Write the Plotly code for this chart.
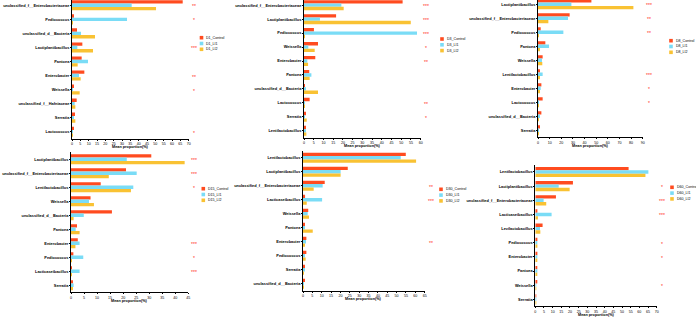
import plotly.graph_objects as go

W, H = 696, 317
GROUPS = ["Control", "LI1", "LI2"]
COLORS = ["#FF4B1F", "#7ADCF6", "#F9C233"]
FONT = "Liberation Sans, Arial, sans-serif"

# ---------------- data ----------------
d1_taxa = ["unclassified_f__Enterobacteriaceae", "Pediococcus", "unclassified_d__Bacteria",
           "Lactiplantibacillus", "Pantoea", "Enterobacter", "Weissella",
           "unclassified_f__Hafniaceae", "Serratia", "Lactococcus"]
d1_control = [66.4, 0.8, 3.0, 6.2, 5.8, 7.4, 1.0, 2.8, 1.8, 1.2]
d1_li1 = [35.8, 33.0, 5.4, 3.2, 9.6, 4.2, 0.6, 1.6, 1.0, 0.1]
d1_li2 = [50.4, 0.6, 13.8, 12.6, 3.4, 5.2, 4.6, 2.0, 2.0, 0.4]
d1_sig = ["**", "*", "", "***", "", "**", "*", "", "", "*"]

d3_taxa = ["unclassified_f__Enterobacteriaceae", "Lactiplantibacillus", "Pediococcus",
           "Weissella", "Enterobacter", "Pantoea", "unclassified_d__Bacteria",
           "Lactococcus", "Serratia", "Lentilactobacillus"]
d3_control = [50.7, 16.5, 5.1, 7.2, 5.8, 2.7, 0.5, 2.9, 0.9, 0.9]
d3_li1 = [19.2, 8.2, 58.1, 2.2, 1.7, 3.8, 0.7, 0.3, 0.5, 1.0]
d3_li2 = [20.4, 54.9, 0.3, 5.5, 2.1, 2.9, 7.2, 0.3, 1.4, 1.2]
d3_sig = ["***", "***", "***", "*", "**", "", "", "**", "*", ""]

d8_taxa = ["Lactiplantibacillus", "unclassified_f__Enterobacteriaceae", "Pediococcus",
           "Pantoea", "Weissella", "Lentilactobacillus", "Enterobacter",
           "Lactococcus", "unclassified_d__Bacteria", "Serratia"]
d8_control = [45.9, 27.2, 2.3, 6.3, 4.0, 1.7, 2.9, 4.0, 2.9, 0.9]
d8_li1 = [28.7, 25.8, 21.8, 9.5, 3.4, 4.0, 2.3, 0.6, 1.4, 0.6]
d8_li2 = [82.0, 8.9, 0.3, 1.4, 3.7, 1.4, 1.1, 0.3, 0.6, 0.6]
d8_sig = ["***", "**", "**", "", "", "***", "*", "*", "", ""]

d15_taxa = ["Lactiplantibacillus", "unclassified_f__Enterobacteriaceae", "Lentilactobacillus",
            "Weissella", "unclassified_d__Bacteria", "Pantoea", "Enterobacter",
            "Pediococcus", "Lacticaseibacillus", "Serratia"]
d15_control = [30.8, 21.1, 11.4, 7.5, 15.7, 2.3, 2.6, 0.9, 0.3, 0.5]
d15_li1 = [21.4, 25.2, 23.9, 6.9, 4.9, 1.8, 3.3, 4.7, 3.3, 1.0]
d15_li2 = [43.6, 14.5, 23.0, 8.8, 1.0, 3.3, 1.7, 0.1, 0.05, 0.5]
d15_sig = ["***", "***", "*", "", "", "", "***", "*", "***", ""]

d30_taxa = ["Lentilactobacillus", "Lactiplantibacillus", "unclassified_f__Enterobacteriaceae",
            "Lacticaseibacillus", "Weissella", "Pantoea", "Enterobacter",
            "Pediococcus", "Serratia", "unclassified_d__Bacteria"]
d30_control = [54.9, 23.9, 11.6, 1.1, 2.8, 0.9, 1.8, 1.8, 0.7, 0.7]
d30_li1 = [52.2, 20.1, 10.5, 10.2, 2.5, 0.7, 1.6, 0.7, 0.7, 0.5]
d30_li2 = [60.4, 20.1, 5.7, 2.0, 3.2, 5.2, 0.9, 1.4, 0.5, 0.4]
d30_sig = ["", "", "**", "***", "", "", "**", "", "", ""]

d60_taxa = ["Lentilactobacillus", "Lactiplantibacillus", "unclassified_f__Enterobacteriaceae",
            "Lacticaseibacillus", "Levilactobacillus", "Pediococcus", "Enterobacter",
            "Pantoea", "Weissella", "Serratia"]
d60_control = [53.8, 21.7, 11.9, 1.2, 4.2, 1.2, 1.2, 0.6, 0.6, 0.2]
d60_li1 = [65.2, 13.5, 4.8, 9.4, 2.7, 0.6, 0.6, 0.6, 0.2, 0.2]
d60_li2 = [63.5, 19.8, 6.3, 1.5, 2.9, 1.2, 0.8, 1.0, 0.2, 0.1]
d60_sig = ["", "*", "***", "***", "", "*", "*", "", "*", ""]

x_title = "Mean proportion(%)"

# ---------------- layout geometry (pixels) ----------------
panels = [
    dict(day="D1", taxa=d1_taxa, vals=[d1_control, d1_li1, d1_li2], sig=d1_sig,
         xmax=70, dtick=5, x0=72, x1=188.7, c0=5.3, c9=131.7, star=194,
         leg=(201.5, 37.7)),
    dict(day="D3", taxa=d3_taxa, vals=[d3_control, d3_li1, d3_li2], sig=d3_sig,
         xmax=60, dtick=5, x0=304, x1=420.7, c0=5.2, c9=130.8, star=426,
         leg=(442, 39.0)),
    dict(day="D8", taxa=d8_taxa, vals=[d8_control, d8_li1, d8_li2], sig=d8_sig,
         xmax=90, dtick=10, x0=538, x1=642.7, c0=4.3, c9=130.3, star=649,
         leg=(671, 40.7)),
    dict(day="D15", taxa=d15_taxa, vals=[d15_control, d15_li1, d15_li2], sig=d15_sig,
         xmax=45, dtick=5, x0=71, x1=188.3, c0=159.3, c9=285.3, star=194,
         leg=(203.3, 188.7)),
    dict(day="D30", taxa=d30_taxa, vals=[d30_control, d30_li1, d30_li2], sig=d30_sig,
         xmax=65, dtick=5, x0=303, x1=424.7, c0=157.7, c9=283.7, star=431,
         leg=(441, 189.3)),
    dict(day="D60", taxa=d60_taxa, vals=[d60_control, d60_li1, d60_li2], sig=d60_sig,
         xmax=70, dtick=5, x0=535.3, x1=656.7, c0=172, c9=299.3, star=662,
         leg=(672, 187.3)),
]


def px(x):
    return x / W


def py(y):
    return 1 - y / H


fig = go.Figure()
layout = {}
annotations = []
shapes = []

for i, p in enumerate(panels, start=1):
    sfx = "" if i == 1 else str(i)
    xa, ya = "x" + sfx, "y" + sfx
    n = len(p["taxa"])
    s = (p["c9"] - p["c0"]) / (n - 1)
    top = max(0.0, p["c0"] - 0.5 * s)
    bottom = p["c9"] + 0.5 * s
    rtop = -(p["c0"] - top) / s

    for g, vals, col in zip(GROUPS, p["vals"], COLORS):
        fig.add_trace(go.Bar(
            y=p["taxa"], x=vals, orientation="h", name=f'{p["day"]}_{g}',
            marker=dict(color=col, line=dict(width=0)),
            xaxis=xa, yaxis=ya, showlegend=False,
        ))

    layout["xaxis" + sfx] = dict(
        domain=[px(p["x0"]), px(p["x1"])], anchor=ya, range=[0, p["xmax"]],
        tick0=0, dtick=p["dtick"], showline=True, linecolor="#000", linewidth=0.8,
        ticks="outside", ticklen=1.2, tickwidth=0.6, tickcolor="#000",
        showgrid=False, zeroline=False,
        tickfont=dict(family=FONT, size=3.6, color="#000"),
        automargin=False, fixedrange=True,
    )
    layout["yaxis" + sfx] = dict(
        domain=[py(bottom), py(top)], anchor=xa, type="category",
        categoryorder="array", categoryarray=p["taxa"],
        range=[n - 0.5, rtop], showline=True, linecolor="#000", linewidth=0.8,
        ticks="outside", ticklen=1, tickwidth=0.6, tickcolor="#000",
        showgrid=False, zeroline=False,
        tickfont=dict(family=FONT, size=3.9, color="#000", weight="bold"),
        automargin=False, fixedrange=True,
    )

    # x-axis title, placed below the tick labels
    ty = min(bottom + 8.4, H - 2.2)
    annotations.append(dict(
        x=px((p["x0"] + p["x1"]) / 2), xref="paper", y=py(ty), yref="paper",
        text="<b>" + x_title + "</b>", showarrow=False,
        xanchor="center", yanchor="middle",
        font=dict(family=FONT, size=3.8, color="#000"),
    ))

    for taxon, sg in zip(p["taxa"], p["sig"]):
        if sg:
            annotations.append(dict(
                x=px(p["star"]), xref="paper", y=taxon, yref=ya,
                text=sg, showarrow=False, xanchor="center", yanchor="middle",
                yshift=-1, font=dict(family=FONT, size=5, color="#FF2A1A"),
            ))

    lx, ly = p["leg"]
    for k, (g, col) in enumerate(zip(GROUPS, COLORS)):
        cy = ly + k * 5.8
        shapes.append(dict(type="rect", xref="paper", yref="paper",
                           x0=px(lx - 1.8), x1=px(lx + 1.8),
                           y0=py(cy + 1.8), y1=py(cy - 1.8),
                           fillcolor=col, line=dict(width=0)))
        annotations.append(dict(
            x=px(lx + 2.6), xref="paper", y=py(cy), yref="paper",
            text=f'{p["day"]}_{g}', showarrow=False, xanchor="left", yanchor="middle",
            font=dict(family=FONT, size=3.6, color="#000"),
        ))

fig.update_layout(
    width=W, height=H, margin=dict(l=0, r=0, t=0, b=0),
    paper_bgcolor="white", plot_bgcolor="white",
    barmode="group", bargap=0.28, bargroupgap=0,
    annotations=annotations, shapes=shapes, showlegend=False,
    font=dict(family=FONT, color="#000"),
    **layout,
)

fig.write_html(
    "out.html",
    config={"displayModeBar": False},
    post_script=("document.documentElement.style.margin='0';"
                 "document.body.style.margin='0';document.body.style.padding='0';"
                 "document.body.style.overflow='hidden';"),
)
